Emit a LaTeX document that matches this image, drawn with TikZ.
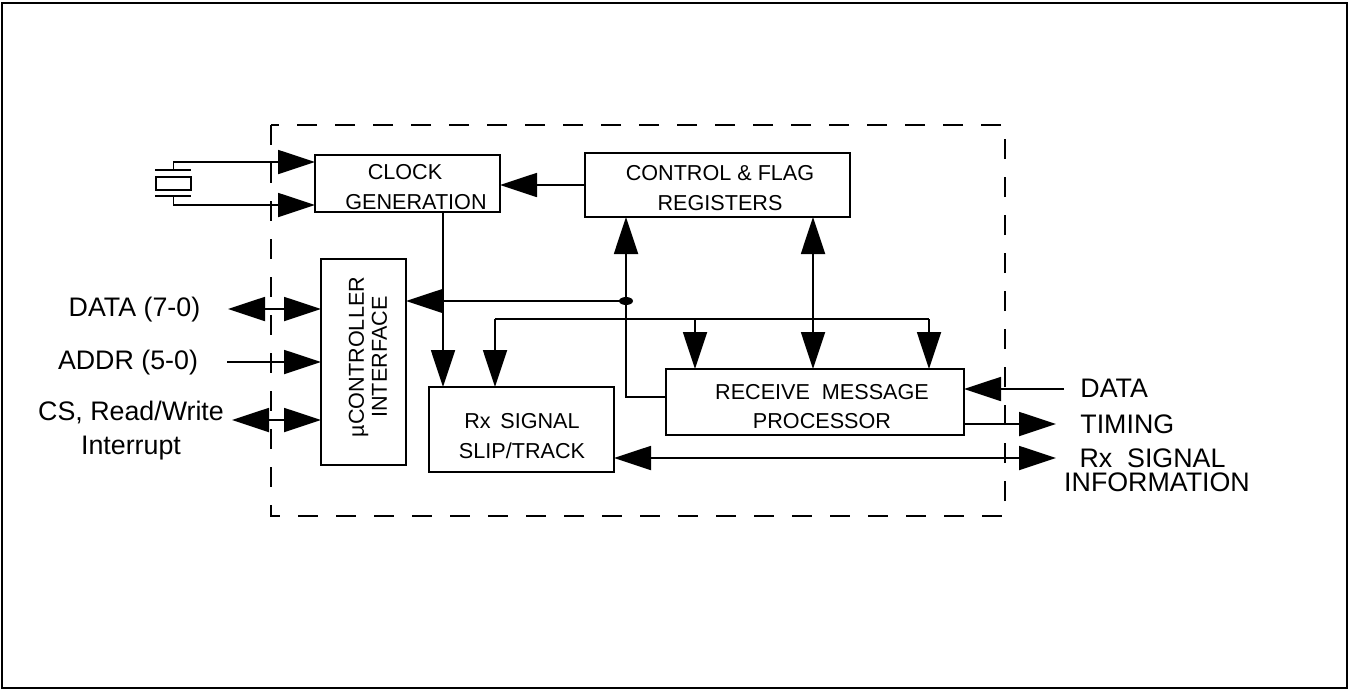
\documentclass[tikz,border=0pt]{standalone}
\usepackage{fontspec}
\setmainfont{Liberation Sans}
\usetikzlibrary{arrows.meta}
\begin{document}
\begin{tikzpicture}[x=0.5pt, y=-0.5pt,
  block/.style = {draw, line width=1.2pt, inner sep=0pt, outer sep=0pt},
  caption/.style = {inner sep=0pt, align=center, font=\fontsize{10.8}{15}\selectfont},
  pin/.style = {inner sep=0pt, align=center, font=\fontsize{13.4}{17}\selectfont},
  link/.style = {line width=0.9pt, {Triangle[length=18.5pt,width=12pt]}-{Triangle[length=18.5pt,width=12pt]}},
  tip/.style = {line width=0.9pt, -{Triangle[length=18.5pt,width=12pt]}}]
\useasboundingbox (0,0) rectangle (1350,691);
\draw[line width=1pt] (2,3) rectangle (1347,688);
\draw[line width=1.2pt, dash pattern=on 10pt off 9pt] (271,125) rectangle (1005,516);
% blocks
\node[block, minimum width=92.5pt, minimum height=28.5pt] (clock) at (407.5,183.5) {};
\node[block, minimum width=132.5pt, minimum height=32pt] (flags) at (717.5,185) {};
\node[block, minimum width=42.5pt, minimum height=103pt] (micro) at (363.5,362) {};
\node[block, minimum width=92.5pt, minimum height=42.5pt] (slip) at (521.5,429.5) {};
\node[block, minimum width=149pt, minimum height=33pt] (recv) at (815,402) {};
\node[caption] (clocktext) at (416,187) {\hspace*{-11pt}CLOCK\\GENERATION};
\node[caption] (flagstext) at (720,188) {CONTROL \& FLAG\\REGISTERS};
\node[caption, rotate=90, font=\fontsize{10.8}{11.5}\selectfont] (microtext) at (368,357) {µCONTROLLER\\INTERFACE};
\node[caption] (sliptext) at (522,436) {Rx\ \,SIGNAL\\SLIP/TRACK};
\node[caption, font=\fontsize{10.8}{14.5}\selectfont] (recvtext) at (822,407) {RECEIVE\ \ MESSAGE\\PROCESSOR};
% crystal
\node[draw, line width=1pt, minimum width=17.5pt, minimum height=6.5pt, inner sep=0pt] (xtal) at (173.5,183.5) {};
\coordinate (plateA) at (173.5,170);
\coordinate (plateB) at (173.5,196);
\draw[line width=0.9pt] (155,170) -- (191,170);
\draw[line width=0.9pt] (155,196) -- (191,196);
\coordinate (clkA) at (315,162);
\coordinate (clkB) at (315,205);
\draw[tip] (plateA) |- (clkA);
\draw[tip] (plateB) |- (clkB);
% left side
\node[pin] (datapin) at (134.5,310) {DATA (7-0)};
\node[pin] (addrpin) at (128,363) {ADDR (5-0)};
\node[pin] (cspin) at (131,430.5) {CS, Read/Write\\Interrupt};
\coordinate (dataend) at (228,309);
\coordinate (addrend) at (227,362);
\coordinate (csend) at (232,420);
\draw[link] (dataend) -- (dataend -| micro.west);
\draw[tip] (addrend) -- (addrend -| micro.west);
\draw[link] (csend) -- (csend -| micro.west);
% inner buses
\coordinate (clkdrop) at (443,212);
\coordinate (junction) at (626,301);
\coordinate (recvtap) at (666,397);
\coordinate (busleft) at (495,319);
\coordinate (busmid) at (695,319);
\coordinate (busright) at (929,319);
\coordinate (flagsdrop) at (813,217);
\fill (junction) ellipse (7 and 4);
\draw[tip] (flags.west) -- (flags.west -| clock.east);
\draw[tip] (clkdrop) -- (clkdrop |- slip.north);
\draw[tip] (junction) -- (junction -| micro.east);
\draw[tip] (junction) -- (junction |- flags.south);
\draw[line width=0.8pt] (junction) |- (recvtap);
\draw[line width=0.8pt] (busleft) -- (busright);
\draw[tip] (busleft) -- (busleft |- slip.north);
\draw[tip] (busmid) -- (busmid |- recv.north);
\draw[tip] (busright) -- (busright |- recv.north);
\draw[link] (flagsdrop) -- (flagsdrop |- recv.north);
% right side
\node[pin, anchor=west] (datain) at (1080,388) {DATA};
\node[pin, anchor=west] (timing) at (1080,424) {TIMING};
\node[pin, font=\fontsize{13.4}{12}\selectfont] (rxinfo) at (1157,470) {\hspace*{-4.5pt}Rx\ \ SIGNAL\\INFORMATION};
\coordinate (datastart) at (1064,389);
\coordinate (timingend) at (1056,424);
\coordinate (rxend) at (1056,458);
\draw[tip] (datastart) -- (datastart -| recv.east);
\draw[tip] (timingend -| recv.east) -- (timingend);
\draw[link] (rxend -| slip.east) -- (rxend);
\end{tikzpicture}
\end{document}
